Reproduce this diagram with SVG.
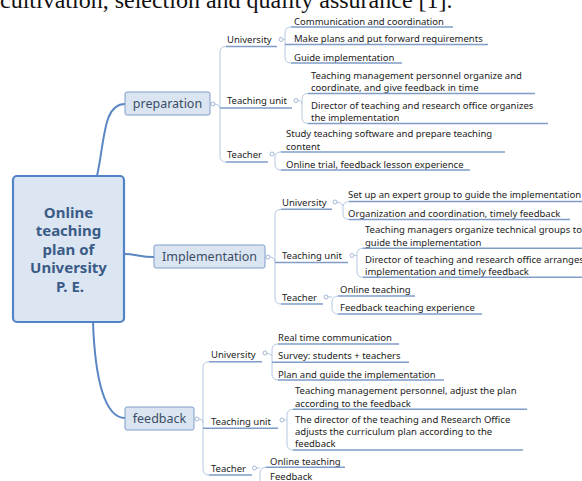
<svg xmlns="http://www.w3.org/2000/svg" width="582" height="481" viewBox="0 0 582 481">
<style>
.hdr{font-family:"Liberation Serif","Times New Roman",serif;font-size:24px;fill:#111}
.t{font-family:"Noto Sans","Open Sans",sans-serif;font-size:9.5px;fill:#222}
.m{font-family:"Noto Sans","Open Sans",sans-serif;font-size:12.5px;fill:#3a4d66;text-anchor:middle}
.c{font-family:"Noto Sans","Open Sans",sans-serif;font-size:15px;font-weight:bold;fill:#3b5b87;text-anchor:middle}
.mbox{fill:#dbe5f1;stroke:#7d9dca;stroke-width:1}
.cbox{fill:#dce6f2;stroke:#5283c4;stroke-width:2.2}
.main{fill:none;stroke:#5a87c4;stroke-width:2}
.br{fill:none;stroke:#b5c8e2;stroke-width:1}
.ul{fill:none;stroke:#7f9dc8;stroke-width:1.6}
.dot{fill:#fff;stroke:#a3b8d6;stroke-width:1}
</style>
<rect width="582" height="481" fill="#fff"/>
<text class="hdr" x="0" y="8">cultivation, selection and quality assurance [1].</text>

<g id="connectors">
<path class="main" d="M97,176 C105,140 103,104 125,104"/>
<path class="main" d="M124,254 C136,254 140,257 154,257"/>
<path class="main" d="M93,322 C95,380 105,418 125,418"/>
<!-- preparation -->
<path class="br" d="M226,46.5 Q220,46.5 220,52.5 V156 Q220,162 226,162 M215,104 Q219,104 220,108"/>
<path class="br" d="M291,27 Q285,27 285,33 V57 Q285,63 291,63 M283,39.5 H285"/>
<path class="br" d="M308,93.5 Q302,93.5 302,99.5 V117.5 Q302,123.5 308,123.5 M298,100.5 Q302,100.5 302,104"/>
<path class="br" d="M281,152 Q275,152 275,158 V164 Q275,170 281,170 M274,154 H275"/>
<!-- implementation -->
<path class="br" d="M281,209.3 Q275,209.3 275,215.3 V298 Q275,304 281,304 M270,257 Q274,257 275,262"/>
<path class="br" d="M349,201.5 Q343,201.5 343,207.5 V213.5 Q343,219.5 349,219.5 M337,202 Q341,202 343,206"/>
<path class="br" d="M363,248.3 Q357,248.3 357,254.3 V271.3 Q357,277.3 363,277.3 M354,255.5 H357"/>
<path class="br" d="M338,296 Q332,296 332,302 V308 Q332,314 338,314 M328,297 H332"/>
<!-- feedback -->
<path class="br" d="M209,361.7 Q203,361.7 203,367.7 V469 Q203,475 209,475 M199,419 Q203,419 203,423"/>
<path class="br" d="M278,344 Q272,344 272,350 V374 Q272,380 278,380 M266,353 Q270,353 272,356"/>
<path class="br" d="M293,409.3 Q287,409.3 287,415.3 V444 Q287,450 293,450 M284,420 H287"/>
<path class="br" d="M266,467.3 Q260,467.3 260,473.3 V490 M256.5,468 H260"/>
</g>

<g id="center">
<rect class="cbox" x="13" y="176" width="111" height="146" rx="4"/>
<text class="c" x="68.5" y="217.5">Online</text>
<text class="c" x="68.5" y="236">teaching</text>
<text class="c" x="68.5" y="254.5">plan of</text>
<text class="c" x="68.5" y="273">University</text>
<text class="c" x="70" y="291.5">P. E.</text>
</g>

<!-- preparation branch -->
<g id="preparation">
<rect class="mbox" x="125" y="92" width="85" height="23" rx="2"/>
<text class="m" x="167.5" y="108">preparation</text>
<circle class="dot" cx="213" cy="104" r="2"/>
</g>
<g id="prep-university">
<text class="t" x="227" y="42.5">University</text>
<path class="ul" d="M226,46.5 H277"/>
<circle class="dot" cx="281" cy="39.5" r="2"/>
</g>
<g id="prep-teaching-unit">
<text class="t" x="227" y="104">Teaching unit</text>
<path class="ul" d="M220,108 H292"/>
<circle class="dot" cx="296" cy="100.5" r="2"/>
</g>
<g id="prep-teacher">
<text class="t" x="227" y="157.5">Teacher</text>
<path class="ul" d="M226,162 H268"/>
<circle class="dot" cx="272" cy="154" r="2"/>
</g>
<g id="p-u1"><text class="t" x="294" y="24.5">Communication and coordination</text><path class="ul" d="M291,27 H453"/></g>
<g id="p-u2"><text class="t" x="294" y="42">Make plans and put forward requirements</text><path class="ul" d="M285,44.5 H488"/></g>
<g id="p-u3"><text class="t" x="294" y="60.5">Guide implementation</text><path class="ul" d="M291,63 H402"/></g>
<g id="p-t1"><text class="t" x="311" y="78.5">Teaching management personnel organize and</text><text class="t" x="311" y="91">coordinate, and give feedback in time</text><path class="ul" d="M308,93.5 H535"/></g>
<g id="p-t2"><text class="t" x="311" y="109">Director of teaching and research office organizes</text><text class="t" x="311" y="120.5">the implementation</text><path class="ul" d="M308,123.5 H548"/></g>
<g id="p-e1"><text class="t" x="286" y="137">Study teaching software and prepare teaching</text><text class="t" x="286" y="149.5">content</text><path class="ul" d="M281,152 H505"/></g>
<g id="p-e2"><text class="t" x="286" y="167.5">Online trial, feedback lesson experience</text><path class="ul" d="M281,170 H470"/></g>

<!-- implementation branch -->
<g id="implementation">
<rect class="mbox" x="154" y="245" width="111" height="23" rx="2"/>
<text class="m" x="209.5" y="261" textLength="95" lengthAdjust="spacingAndGlyphs">Implementation</text>
<circle class="dot" cx="268" cy="257" r="2"/>
</g>
<g id="impl-university">
<text class="t" x="282" y="205.5">University</text>
<path class="ul" d="M281,209.3 H332"/>
<circle class="dot" cx="335" cy="202" r="2"/>
</g>
<g id="impl-teaching-unit">
<text class="t" x="282" y="258.5">Teaching unit</text>
<path class="ul" d="M275,262.5 H348"/>
<circle class="dot" cx="352" cy="255.5" r="2"/>
</g>
<g id="impl-teacher">
<text class="t" x="282" y="300.5">Teacher</text>
<path class="ul" d="M281,304 H323"/>
<circle class="dot" cx="326" cy="297" r="2"/>
</g>
<g id="i-u1"><text class="t" x="348" y="197.5">Set up an expert group to guide the implementation</text><path class="ul" d="M349,201.5 H590"/></g>
<g id="i-u2"><text class="t" x="348" y="216.5">Organization and coordination, timely feedback</text><path class="ul" d="M349,219.5 H570"/></g>
<g id="i-t1"><text class="t" x="365" y="233">Teaching managers organize technical groups to</text><text class="t" x="365" y="245.5">guide the implementation</text><path class="ul" d="M363,248.3 H590"/></g>
<g id="i-t2"><text class="t" x="365" y="263">Director of teaching and research office arranges</text><text class="t" x="365" y="274.5">implementation and timely feedback</text><path class="ul" d="M363,277.3 H590"/></g>
<g id="i-e1"><text class="t" x="340" y="293">Online teaching</text><path class="ul" d="M338,296 H415"/></g>
<g id="i-e2"><text class="t" x="340" y="311">Feedback teaching experience</text><path class="ul" d="M338,314 H482"/></g>

<!-- feedback branch -->
<g id="feedback">
<rect class="mbox" x="125" y="407" width="69" height="23" rx="2"/>
<text class="m" x="159.5" y="423">feedback</text>
<circle class="dot" cx="197" cy="419" r="2"/>
</g>
<g id="fb-university">
<text class="t" x="211" y="357.5">University</text>
<path class="ul" d="M209,361.7 H262"/>
<circle class="dot" cx="265" cy="353" r="2"/>
</g>
<g id="fb-teaching-unit">
<text class="t" x="211" y="425">Teaching unit</text>
<path class="ul" d="M203,428.3 H278"/>
<circle class="dot" cx="282" cy="420" r="2"/>
</g>
<g id="fb-teacher">
<text class="t" x="211" y="472">Teacher</text>
<path class="ul" d="M209,475 H252"/>
<circle class="dot" cx="254.5" cy="468" r="2"/>
</g>
<g id="f-u1"><text class="t" x="278" y="340.5">Real time communication</text><path class="ul" d="M278,344 H399"/></g>
<g id="f-u2"><text class="t" x="278" y="359">Survey: students + teachers</text><path class="ul" d="M272,362.3 H409"/></g>
<g id="f-u3"><text class="t" x="278" y="377.5">Plan and guide the implementation</text><path class="ul" d="M278,380 H444"/></g>
<g id="f-t1"><text class="t" x="295" y="394">Teaching management personnel, adjust the plan</text><text class="t" x="295" y="406.5">according to the feedback</text><path class="ul" d="M293,409.3 H527"/></g>
<g id="f-t2"><text class="t" x="295" y="422.5">The director of the teaching and Research Office</text><text class="t" x="295" y="434.5">adjusts the curriculum plan according to the</text><text class="t" x="295" y="446.5">feedback</text><path class="ul" d="M293,450 H523"/></g>
<g id="f-e1"><text class="t" x="270" y="464.5">Online teaching</text><path class="ul" d="M266,467.3 H345"/></g>
<g id="f-e2"><text class="t" x="270" y="480">Feedback</text></g>
</svg>
